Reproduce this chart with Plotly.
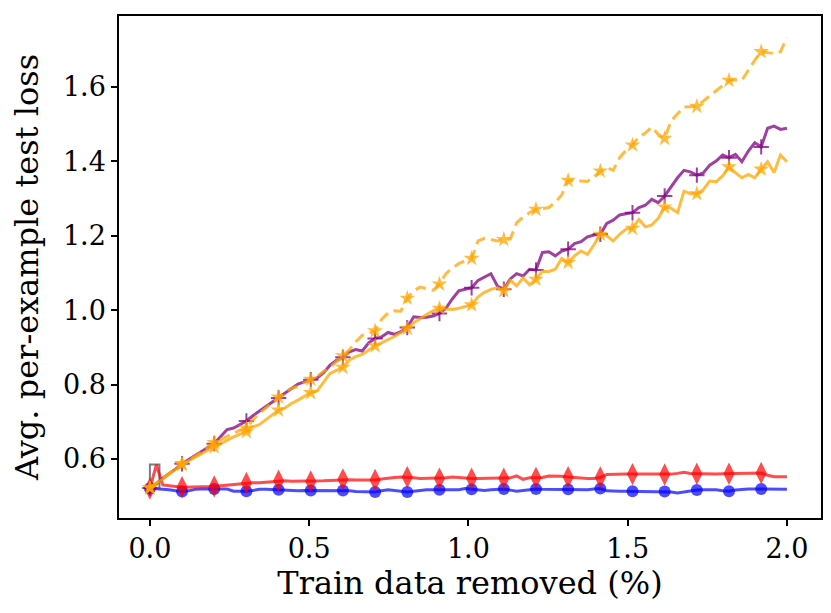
import numpy as np
import plotly.graph_objects as go

# x grid: 100 evenly spaced removal fractions from 0 to 2 %
removed_pct = np.linspace(0, 2, 100)

loss_blue = [
    0.521, 0.520, 0.519, 0.517, 0.514, 0.512, 0.514, 0.518, 0.519, 0.519,
    0.519, 0.518, 0.519, 0.513, 0.512, 0.513, 0.515, 0.518, 0.518, 0.517,
    0.517, 0.515, 0.513, 0.514, 0.515, 0.515, 0.514, 0.513, 0.514, 0.515,
    0.515, 0.514, 0.512, 0.511, 0.511, 0.511, 0.514, 0.517, 0.515, 0.512,
    0.511, 0.513, 0.516, 0.517, 0.517, 0.517, 0.516, 0.515, 0.517, 0.520,
    0.518, 0.516, 0.515, 0.517, 0.519, 0.519, 0.516, 0.513, 0.515, 0.518,
    0.519, 0.518, 0.518, 0.518, 0.518, 0.518, 0.517, 0.516, 0.517, 0.519,
    0.520, 0.514, 0.513, 0.513, 0.513, 0.513, 0.513, 0.513, 0.512, 0.512,
    0.512, 0.511, 0.508, 0.511, 0.515, 0.516, 0.517, 0.517, 0.517, 0.514,
    0.513, 0.516, 0.518, 0.519, 0.519, 0.519, 0.518, 0.518, 0.518, 0.518,
]

loss_red = [
    0.520, 0.584, 0.530, 0.527, 0.526, 0.524, 0.524, 0.525, 0.526, 0.526,
    0.526, 0.528, 0.530, 0.532, 0.534, 0.535, 0.536, 0.536, 0.537, 0.539,
    0.541, 0.541, 0.540, 0.540, 0.539, 0.539, 0.540, 0.541, 0.542, 0.543,
    0.545, 0.544, 0.543, 0.543, 0.543, 0.543, 0.546, 0.549, 0.550, 0.551,
    0.551, 0.549, 0.547, 0.547, 0.547, 0.547, 0.549, 0.551, 0.549, 0.548,
    0.547, 0.547, 0.547, 0.547, 0.547, 0.547, 0.549, 0.554, 0.545, 0.549,
    0.549, 0.550, 0.554, 0.554, 0.553, 0.551, 0.549, 0.547, 0.547, 0.547,
    0.550, 0.558, 0.559, 0.559, 0.559, 0.559, 0.559, 0.559, 0.558, 0.558,
    0.558, 0.559, 0.561, 0.564, 0.561, 0.560, 0.560, 0.560, 0.559, 0.560,
    0.560, 0.560, 0.560, 0.561, 0.562, 0.562, 0.556, 0.552, 0.552, 0.552,
]

loss_purple = [
    0.522, 0.532, 0.548, 0.560, 0.573, 0.587, 0.598, 0.607, 0.618, 0.630,
    0.641, 0.660, 0.679, 0.683, 0.693, 0.702, 0.716, 0.728, 0.741, 0.752,
    0.764, 0.776, 0.790, 0.801, 0.807, 0.813, 0.818, 0.832, 0.852, 0.865,
    0.873, 0.888, 0.894, 0.890, 0.912, 0.924, 0.928, 0.940, 0.935, 0.942,
    0.953, 0.982, 0.980, 0.981, 0.984, 0.991, 1.005, 1.030, 1.052, 1.056,
    1.060, 1.080, 1.088, 1.098, 1.065, 1.056, 1.084, 1.098, 1.092, 1.110,
    1.108, 1.155, 1.157, 1.146, 1.159, 1.164, 1.179, 1.184, 1.197, 1.202,
    1.204, 1.233, 1.242, 1.256, 1.259, 1.262, 1.276, 1.282, 1.298, 1.289,
    1.307, 1.331, 1.356, 1.376, 1.372, 1.363, 1.369, 1.390, 1.401, 1.417,
    1.410, 1.419, 1.399, 1.428, 1.450, 1.439, 1.489, 1.495, 1.486, 1.489,
]

loss_orange = [
    0.522, 0.533, 0.546, 0.559, 0.572, 0.585, 0.595, 0.603, 0.613, 0.623,
    0.632, 0.643, 0.652, 0.659, 0.666, 0.673, 0.686, 0.692, 0.705, 0.719,
    0.731, 0.737, 0.749, 0.758, 0.768, 0.778, 0.783, 0.808, 0.830, 0.838,
    0.846, 0.866, 0.875, 0.881, 0.893, 0.904, 0.912, 0.920, 0.929, 0.940,
    0.951, 0.966, 0.978, 0.988, 0.998, 1.005, 1.003, 1.002, 1.005, 1.010,
    1.014, 1.036, 1.048, 1.056, 1.060, 1.052, 1.080, 1.065, 1.087, 1.068,
    1.083, 1.104, 1.104, 1.110, 1.139, 1.128, 1.146, 1.159, 1.150, 1.175,
    1.204, 1.200, 1.186, 1.204, 1.218, 1.220, 1.244, 1.224, 1.229, 1.247,
    1.277, 1.274, 1.262, 1.320, 1.313, 1.313, 1.324, 1.347, 1.345, 1.361,
    1.385, 1.370, 1.356, 1.365, 1.356, 1.379, 1.399, 1.370, 1.417, 1.399,
]

loss_orange_dashed = [
    0.522, 0.534, 0.548, 0.561, 0.574, 0.587, 0.596, 0.606, 0.618, 0.632,
    0.644, 0.652, 0.661, 0.669, 0.677, 0.683, 0.705, 0.722, 0.736, 0.752,
    0.766, 0.780, 0.790, 0.795, 0.805, 0.814, 0.822, 0.835, 0.846, 0.862,
    0.877, 0.893, 0.915, 0.932, 0.938, 0.944, 0.975, 0.992, 0.998, 0.997,
    1.032, 1.052, 1.062, 1.058, 1.053, 1.070, 1.098, 1.113, 1.125, 1.133,
    1.139, 1.186, 1.193, 1.190, 1.186, 1.190, 1.191, 1.235, 1.250, 1.262,
    1.271, 1.273, 1.276, 1.290, 1.310, 1.349, 1.349, 1.347, 1.346, 1.358,
    1.374, 1.383, 1.376, 1.410, 1.430, 1.444, 1.466, 1.476, 1.492, 1.473,
    1.462, 1.509, 1.528, 1.546, 1.547, 1.548, 1.562, 1.575, 1.590, 1.604,
    1.618, 1.619, 1.618, 1.645, 1.672, 1.695, 1.693, 1.690, 1.695, 1.733,
]

# small gray outline at the very start
gray_x = [0.0, 0.0, 0.03, 0.03]
gray_y = [0.52, 0.585, 0.585, 0.52]

MARK_EVERY = 5

fig = go.Figure()

fig.add_trace(go.Scatter(
    x=gray_x, y=gray_y, mode="lines",
    line=dict(color="rgba(110,110,110,0.9)", width=2),
))


def add_series(y, color, symbol, size, dash="solid", mline=0):
    y = np.asarray(y)
    fig.add_trace(go.Scatter(
        x=removed_pct, y=y, mode="lines",
        line=dict(color=color, width=3, dash=dash),
    ))
    fig.add_trace(go.Scatter(
        x=removed_pct[::MARK_EVERY], y=y[::MARK_EVERY], mode="markers",
        marker=dict(symbol=symbol, size=size, color=color,
                    line=dict(color=color, width=mline)),
    ))


add_series(loss_blue, "rgba(0,0,255,0.7)", "circle", 12)
add_series(loss_red, "rgba(255,0,0,0.7)", "diamond-tall", 16)
add_series(loss_purple, "rgba(128,0,128,0.75)", "cross-thin", 11, mline=2)
add_series(loss_orange, "rgba(255,165,0,0.75)", "star", 12)
add_series(loss_orange_dashed, "rgba(255,165,0,0.75)", "star", 12, dash="11px,6px")

axis_style = dict(
    showline=True, mirror=True, linecolor="black", linewidth=1.5,
    ticks="outside", ticklen=6, tickwidth=1.5, tickcolor="black",
    showgrid=False, zeroline=False, tickformat=".1f",
)

fig.update_layout(
    width=831, height=613,
    margin=dict(l=111, r=18, t=8, b=103),
    plot_bgcolor="white", paper_bgcolor="white",
    showlegend=False,
    font=dict(family="DejaVu Serif", size=27, color="black"),
    xaxis=dict(range=[-0.097, 2.107], tickvals=[0, 0.5, 1.0, 1.5, 2.0],
               title=dict(text="Train data removed (%)", standoff=8),
               automargin=False, **axis_style),
    yaxis=dict(range=[0.441, 1.791], tickvals=[0.6, 0.8, 1.0, 1.2, 1.4, 1.6],
               title=dict(text="Avg. per-example test loss", standoff=16),
               automargin=False, **axis_style),
)

fig.write_html("out.html")
